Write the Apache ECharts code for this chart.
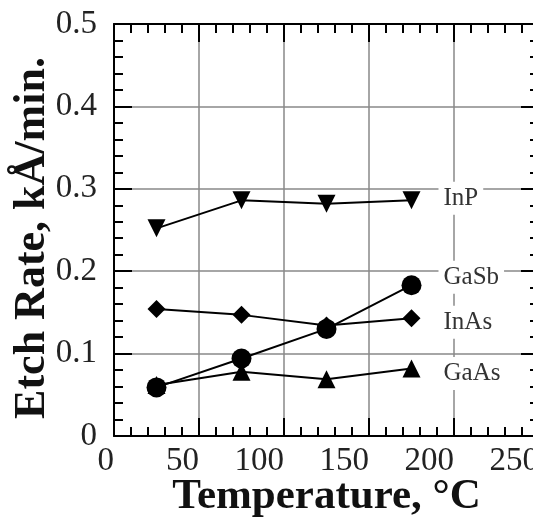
<!DOCTYPE html>
<html>
<head>
<meta charset="utf-8">
<script src="https://cdn.jsdelivr.net/npm/echarts@6/dist/echarts.min.js"></script>
<style>
html,body{margin:0;padding:0;background:#fff;}
#chart{width:533px;height:519px;}
</style>
</head>
<body>
<div id="chart"></div>
<script>
// Data
const temperatures = [25, 75, 125, 175];
const inpRate  = [0.252, 0.286, 0.282, 0.286];
const inasRate = [0.154, 0.147, 0.134, 0.143];
const gaasRate = [0.062, 0.078, 0.069, 0.082];
const gasbRate = [0.059, 0.094, 0.130, 0.183];
const xTickValues = [0, 50, 100, 150, 200, 250];
const yTickValues = [0, 0.1, 0.2, 0.3, 0.4, 0.5];

const SERIF = '"Liberation Serif", "DejaVu Serif", serif';

function pairs(ys) { return temperatures.map((t, i) => [t, ys[i]]); }

const tickStyle = {
  axisLine: { show: true, onZero: false, lineStyle: { color: '#000', width: 2 } },
  axisTick: { show: true, inside: true, length: 18, lineStyle: { color: '#000', width: 2 } },
  minorTick: { show: true, splitNumber: 5, length: 9, lineStyle: { color: '#000', width: 2 } }
};

function seriesOf(name, ys, symbol, size, rotate, labelDy) {
  return {
    name: name,
    type: 'line',
    yAxisIndex: 0,
    data: pairs(ys),
    symbol: symbol,
    symbolSize: size,
    symbolRotate: rotate,
    lineStyle: { color: '#000', width: 2 },
    itemStyle: { color: '#000' },
    animation: false,
    endLabel: {
      show: true,
      formatter: name,
      position: 'right',
      distance: 27,
      offset: [0, labelDy],
      color: '#333',
      fontSize: 25,
      fontFamily: SERIF,
      backgroundColor: '#fff',
      padding: [4, 5, 4, 5]
    }
  };
}

const yMin = yTickValues[0], yMax = yTickValues[yTickValues.length - 1];

const chart = echarts.init(document.getElementById('chart'), null, { renderer: 'canvas' });
chart.setOption({
  backgroundColor: '#fff',
  animation: false,
  grid: { left: 114, top: 24, right: -6, bottom: 83, containLabel: false, outerBoundsMode: 'none' },
  xAxis: [
    Object.assign({
      type: 'value', position: 'bottom', min: xTickValues[0], max: xTickValues[xTickValues.length - 1], interval: 50,
      splitLine: { show: true, lineStyle: { color: '#888', width: 1.5 } },
      axisLabel: {
        show: true, align: 'right', margin: 9, color: '#222', fontSize: 33, fontFamily: SERIF,
        formatter: v => String(v)
      },
      name: 'Temperature, °C',
      nameLocation: 'middle',
      nameGap: 39,
      nameMoveOverlap: false,
      nameTextStyle: { fontSize: 43, fontWeight: 'bold', fontFamily: SERIF, color: '#111' }
    }, tickStyle),
    Object.assign({
      type: 'value', position: 'top', min: xTickValues[0], max: xTickValues[xTickValues.length - 1], interval: 50,
      splitLine: { show: false }, axisLabel: { show: false }
    }, tickStyle)
  ],
  yAxis: [
    Object.assign({
      type: 'value', position: 'left', min: yMin, max: yMax, interval: 0.1,
      splitLine: { show: true, lineStyle: { color: '#888', width: 1.5 } },
      axisLabel: {
        show: true, margin: 17, color: '#222', fontSize: 33, fontFamily: SERIF,
        formatter: v => (v === 0 ? '0' : v.toFixed(1))
      }
    }, tickStyle),
    Object.assign({
      type: 'value', position: 'right', min: yMin, max: yMax, interval: 0.1,
      splitLine: { show: false }, axisLabel: { show: false }
    }, tickStyle),
    {
      type: 'value', position: 'left', min: yMin, max: yMax, interval: 0.1,
      axisLine: { show: false }, axisTick: { show: false }, minorTick: { show: false },
      splitLine: { show: false }, axisLabel: { show: false },
      name: 'Etch Rate, kÅ/min.',
      nameLocation: 'middle',
      nameRotate: 90,
      nameGap: 53,
      nameMoveOverlap: false,
      nameTextStyle: {
        fontSize: 44, fontWeight: 'bold', fontFamily: SERIF, color: '#111',
        backgroundColor: '#fff', padding: [0, 16, 6, 0]
      }
    }
  ],
  series: [
    seriesOf('InP', inpRate, 'triangle', 18, 180, -2),
    seriesOf('InAs', inasRate, 'diamond', 18, 0, 4),
    seriesOf('GaAs', gaasRate, 'triangle', 18, 0, 5),
    seriesOf('GaSb', gasbRate, 'circle', 20, 0, -8)
  ]
});
</script>
</body>
</html>
